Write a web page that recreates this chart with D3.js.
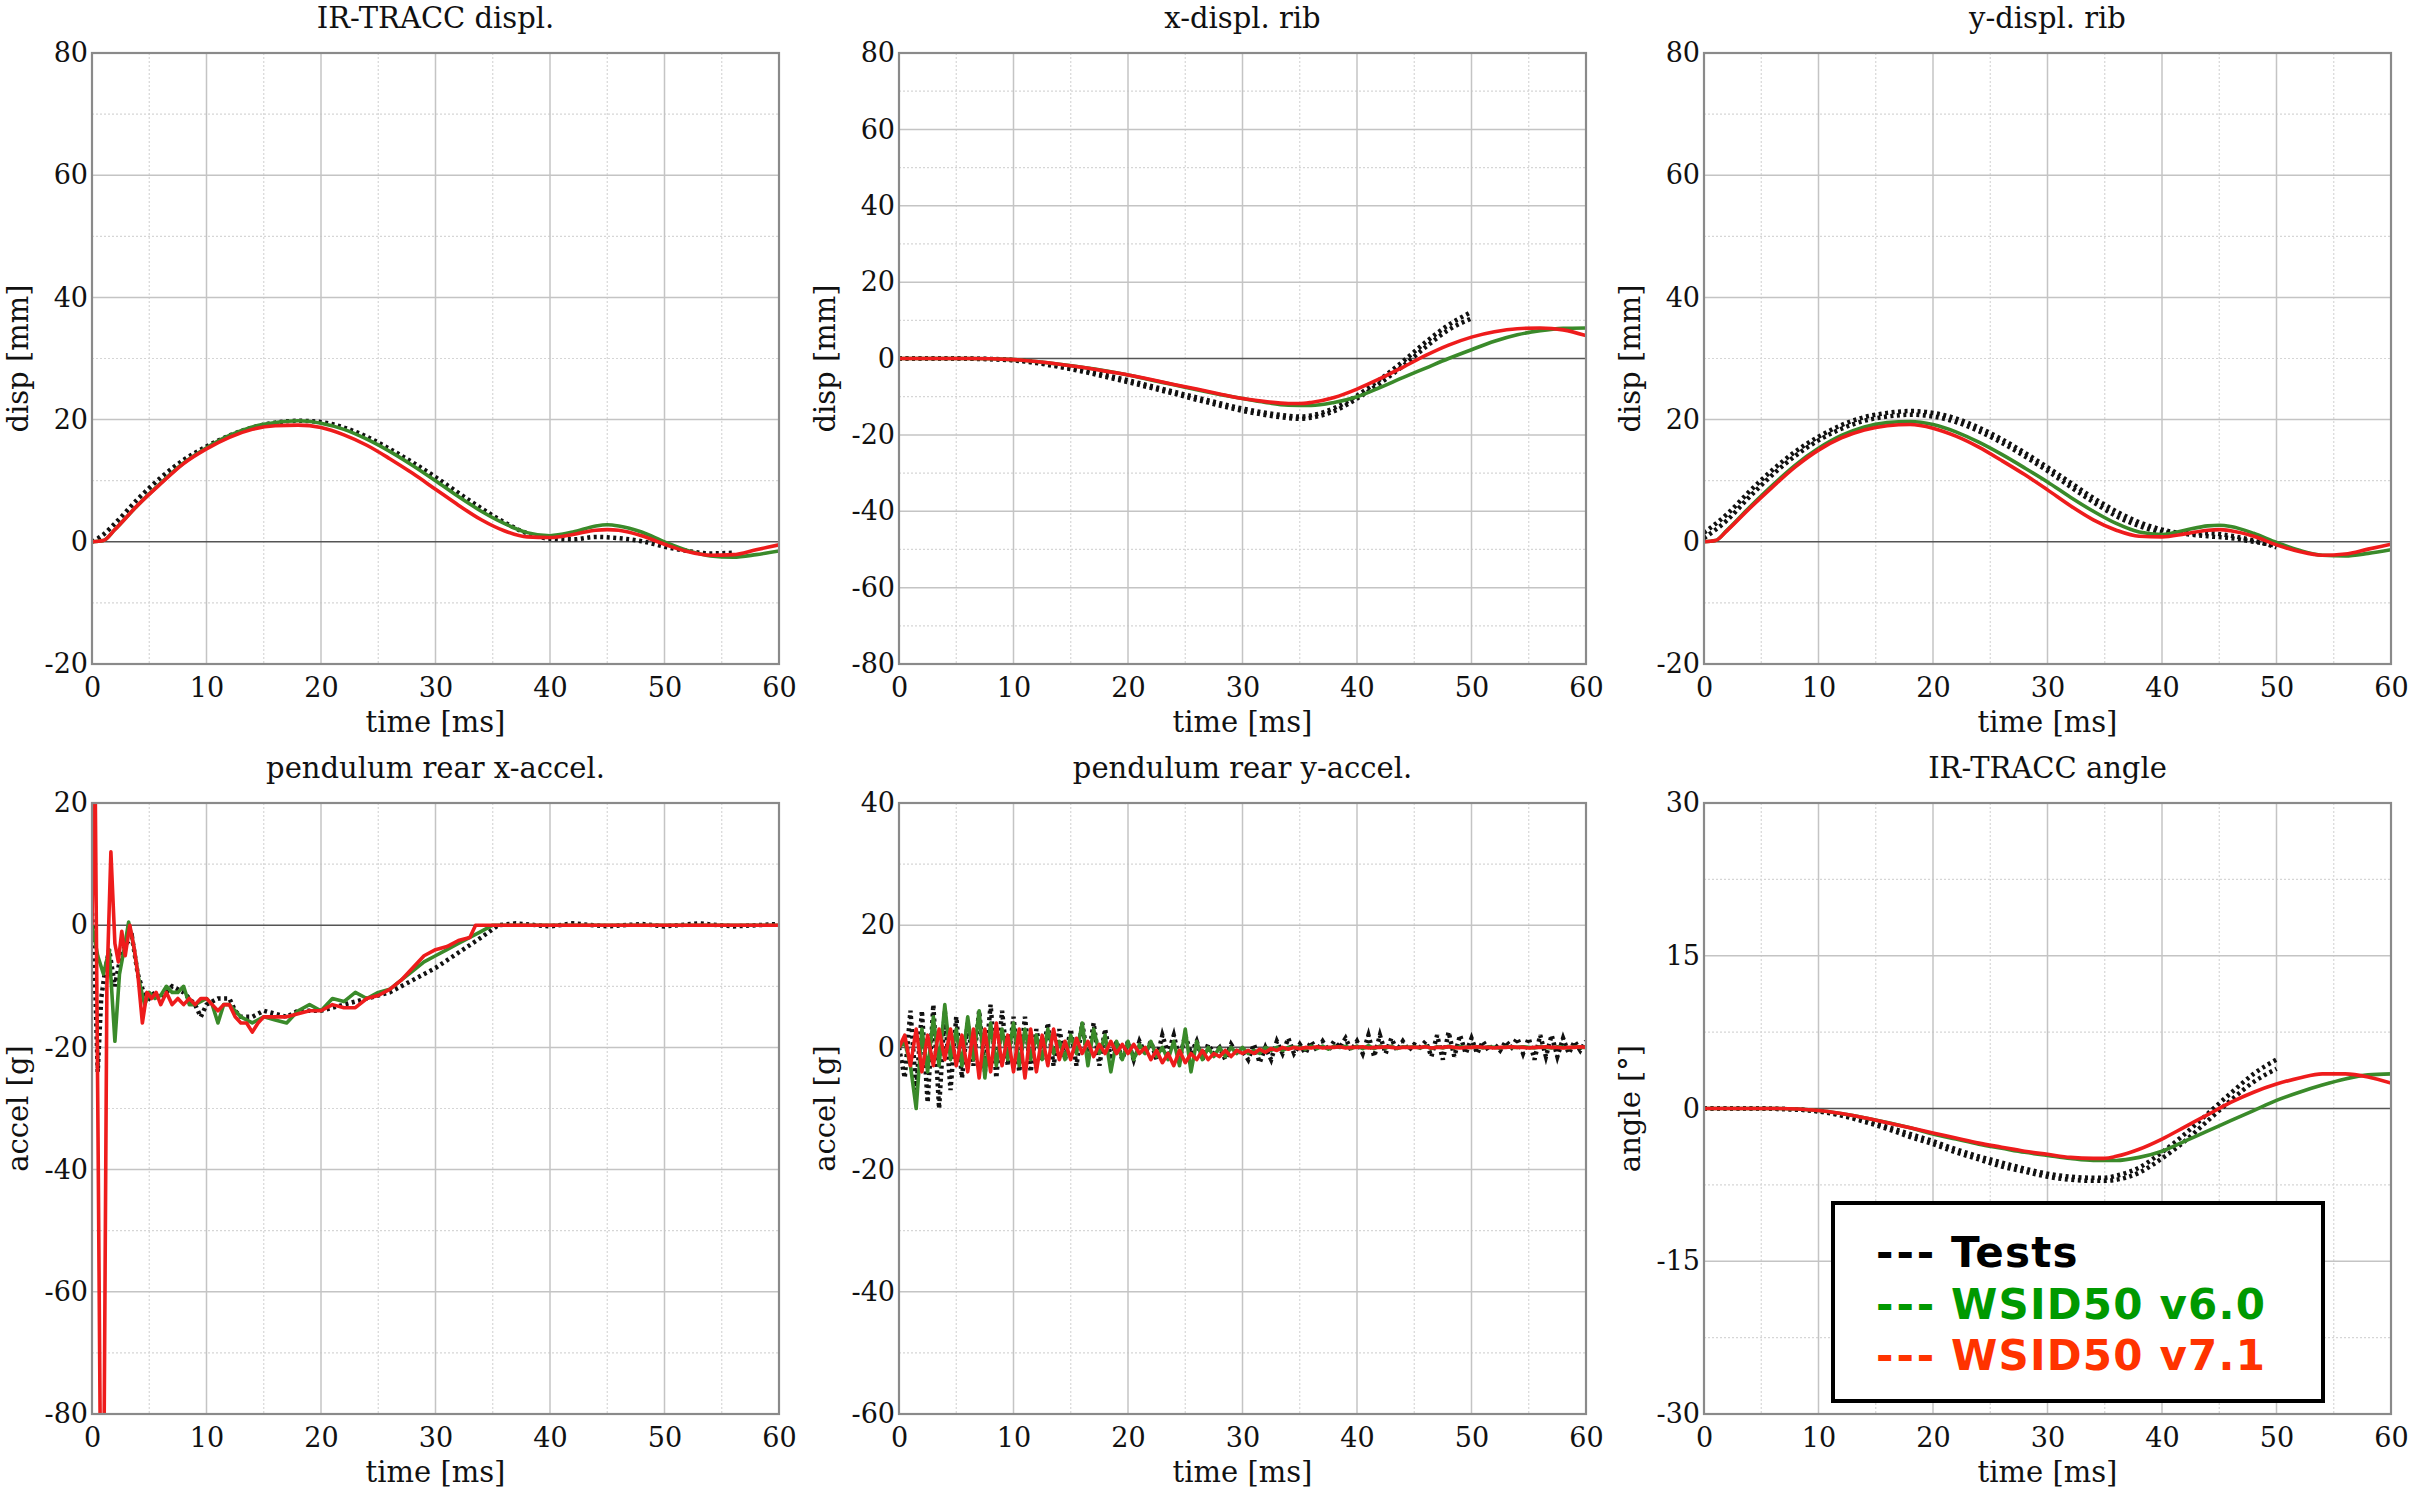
<!DOCTYPE html>
<html><head><meta charset="utf-8">
<script src="https://cdn.jsdelivr.net/npm/d3@7/dist/d3.min.js"></script>
<style>body{margin:0;background:#fff}svg{display:block}</style>
</head><body>
<svg id="chart" width="2409" height="1492"></svg>
<script>
// ---------------- DATA ----------------
const panelTitles = ["IR-TRACC displ.", "x-displ. rib", "y-displ. rib",
                     "pendulum rear x-accel.", "pendulum rear y-accel.", "IR-TRACC angle"];
const yLabels = ["disp [mm]", "disp [mm]", "disp [mm]", "accel [g]", "accel [g]", "angle [°]"];
const yDomains = [[-20, 80], [-80, 80], [-20, 80], [-80, 20], [-60, 40], [-30, 30]];
const yTickStep = [20, 20, 20, 20, 20, 15];
const xTicks = [0, 10, 20, 30, 40, 50, 60];
const xLabel = "time [ms]";
const legendLabels = ["Tests", "WSID50 v6.0", "WSID50 v7.1"];

// Panel 1 – IR-TRACC displacement [mm]
const p1Test1 = [[0,0],[1,1.2],[2,3],[4,7],[6,10.5],[8,13.4],[10,15.6],[12,17.4],[14,18.7],[16,19.5],[18,19.8],[20,19.6],[22,18.7],[24,17.2],[26,15.2],[28,13],[30,10.6],[32,8],[34,5.5],[36,3.2],[38,1.4],[40,0.5],[42,0.4],[44,0.8],[46,0.6],[48,0.1],[50,-0.8],[52,-1.5],[54,-1.9],[56,-1.8]];
const p1V60 = [[0,0],[1,0.2],[2,2],[4,6],[6,9.6],[8,12.9],[10,15.4],[12,17.4],[14,18.8],[16,19.5],[18,19.8],[20,19.4],[22,18.4],[24,16.8],[26,14.8],[28,12.5],[30,10],[32,7.4],[34,5],[36,3],[38,1.5],[40,1],[42,1.6],[44,2.6],[45,2.8],[46,2.6],[48,1.6],[50,0],[52,-1.4],[54,-2.3],[56,-2.5],[58,-2.1],[60,-1.5]];
const p1V71 = [[0,0],[1,0.2],[2,2],[4,6],[6,9.5],[8,12.8],[10,15.2],[12,17.1],[14,18.4],[16,19],[18,19.1],[20,18.7],[22,17.5],[24,15.8],[26,13.6],[28,11.2],[30,8.6],[32,6],[34,3.6],[36,1.8],[38,0.8],[40,0.7],[42,1.2],[44,1.9],[45,2],[46,1.9],[48,1],[50,-0.4],[52,-1.6],[54,-2.2],[56,-2.1],[58,-1.3],[60,-0.5]];

// Panel 2 – x-displ. rib [mm]
const p2Test1 = [[0,0],[4,0],[8,-0.2],[10,-0.5],[12,-1.2],[14,-2.2],[16,-3.4],[18,-4.8],[20,-6.2],[22,-7.7],[24,-9.2],[26,-10.8],[28,-12.3],[30,-13.7],[32,-14.8],[34,-15.6],[35,-15.8],[36,-15.5],[38,-13.8],[40,-10.5],[42,-6.5],[44,-2],[46,3],[48,7.5],[50,10.5]];
const p2Test2 = [[0,0],[4,0],[8,-0.1],[10,-0.4],[12,-1],[14,-1.9],[16,-3],[18,-4.3],[20,-5.7],[22,-7.2],[24,-8.7],[26,-10.2],[28,-11.7],[30,-13.1],[32,-14.2],[34,-15],[35,-15.2],[36,-14.9],[38,-13],[40,-9.7],[42,-5.5],[44,-0.8],[46,4.3],[48,8.8],[50,12.2]];
const p2V60 = [[0,0],[6,0],[10,-0.3],[14,-1.5],[18,-3.2],[20,-4.3],[22,-5.6],[24,-6.9],[26,-8.2],[28,-9.4],[30,-10.5],[32,-11.5],[34,-12.2],[36,-12.3],[38,-11.5],[40,-10],[42,-7.6],[44,-5],[46,-2.5],[48,0],[50,2.3],[52,4.5],[54,6.2],[56,7.3],[58,7.9],[60,8]];
const p2V71 = [[0,0],[6,0],[10,-0.3],[12,-0.8],[14,-1.5],[16,-2.3],[18,-3.3],[20,-4.3],[22,-5.5],[24,-6.8],[26,-8],[28,-9.3],[30,-10.5],[32,-11.3],[34,-11.8],[35,-11.8],[36,-11.5],[38,-10.2],[40,-8],[42,-5.3],[44,-2.3],[46,0.8],[48,3.5],[50,5.6],[52,7],[54,7.8],[56,8],[58,7.5],[60,6]];

// Panel 3 – y-displ. rib [mm]
const p3Test1 = [[0,1.5],[2,4.5],[4,8.3],[6,11.8],[8,14.8],[10,17.2],[12,19.1],[14,20.4],[16,21.1],[18,21.4],[20,21.1],[22,20.2],[24,18.7],[26,16.8],[28,14.6],[30,12.2],[32,9.7],[34,7.2],[36,5],[38,3.2],[40,2],[42,1.3],[44,0.9],[46,0.6],[48,0],[50,-0.6]];
const p3Test2 = [[0,0.6],[2,3.5],[4,7.4],[6,11],[8,14.1],[10,16.6],[12,18.5],[14,19.8],[16,20.5],[18,20.8],[20,20.5],[22,19.6],[24,18.1],[26,16.2],[28,14],[30,11.6],[32,9],[34,6.5],[36,4.2],[38,2.6],[40,1.6],[42,1.4],[44,1.4],[46,1],[48,0.2],[50,-0.9]];
const p3V60 = [[0,0],[1,0.2],[2,1.9],[4,5.7],[6,9.3],[8,12.6],[10,15.3],[12,17.4],[14,18.8],[16,19.5],[18,19.7],[20,19.2],[22,18],[24,16.3],[26,14.3],[28,12.1],[30,9.8],[32,7.3],[34,5],[36,3],[38,1.6],[40,1.2],[42,1.9],[44,2.6],[45,2.7],[46,2.5],[48,1.4],[50,-0.1],[52,-1.4],[54,-2.2],[56,-2.3],[58,-1.9],[60,-1.3]];
const p3V71 = [[0,0],[1,0.2],[2,1.8],[4,5.5],[6,9],[8,12.3],[10,15],[12,17],[14,18.3],[16,19],[18,19.2],[20,18.6],[22,17.3],[24,15.5],[26,13.3],[28,11],[30,8.5],[32,5.9],[34,3.6],[36,1.9],[38,0.9],[40,0.8],[42,1.3],[44,1.9],[45,2],[46,1.8],[48,0.9],[50,-0.5],[52,-1.6],[54,-2.2],[56,-2],[58,-1.2],[60,-0.4]];

// Panel 4 – pendulum rear x-accel. [g]
const p4Test1 = [[0,2],[0.2,-5],[0.5,-24],[0.8,-12],[1.1,-8],[1.5,-4],[2,-10],[2.5,-5],[3,-3],[3.5,-2],[4,-8],[4.5,-11],[5,-12],[5.5,-11],[6,-12],[7,-10],[8,-11],[9,-13],[9.5,-15],[10,-13],[11,-12],[12,-12],[12.5,-14],[13,-15],[14,-15],[15,-14],[16,-14.5],[17,-15],[18,-14],[19,-14],[20,-14],[22,-13],[24,-12],[26,-11],[28,-9],[30,-7],[32,-4.5],[34,-2],[35.5,0],[37,0.3],[40,-0.2],[42,0.3],[45,-0.2],[48,0.2],[50,-0.2],[53,0.3],[56,-0.2],[60,0.2]];
const p4V60 = [[0,0],[0.5,-5],[1,-8],[1.5,-4],[2,-19],[2.4,-8],[2.8,-4],[3.2,0.5],[3.6,-3],[4.1,-9],[4.6,-13],[5,-11],[5.5,-12],[6,-11.5],[6.5,-10],[7,-11],[7.5,-11],[8,-10],[8.5,-13],[9,-13],[10,-12],[10.5,-13],[11,-16],[11.5,-13],[12,-13],[12.5,-14],[13,-15],[14,-16],[15,-15],[16,-15.5],[17,-16],[18,-14],[19,-13],[20,-14],[21,-12],[22,-12.5],[23,-11],[24,-12],[25,-11],[26,-10.5],[27,-9],[28,-7.5],[29,-6],[30,-5],[31,-4],[32,-3],[33,-2],[34,-1],[35,0],[60,0]];
const p4V71 = [[0,0],[0.25,30],[0.55,-40],[0.9,-130],[1.3,-10],[1.65,12],[2,-3],[2.3,-6],[2.6,-1],[2.9,-5],[3.3,0],[3.7,-4],[4.0,-8],[4.4,-16],[4.8,-11],[5.2,-12],[5.6,-11],[6,-13],[6.5,-11],[7,-13],[7.5,-12],[8,-13],[8.5,-12],[9,-13],[9.5,-12],[10,-12],[10.5,-13],[11,-14],[11.5,-13],[12,-13],[12.5,-15],[13,-16],[13.5,-16],[14,-17.5],[14.5,-16],[15,-15],[16,-15],[17,-15],[18,-14.5],[19,-14],[20,-14],[21,-13],[22,-13.5],[23,-13.5],[24,-12],[25,-11.5],[26,-10.5],[27,-9],[28,-7],[29,-5],[30,-4],[31,-3.5],[32,-2.5],[33,-2],[33.5,0],[60,0]];

// Panel 5 – pendulum rear y-accel. [g], sampled every 0.5 ms from 0 to 60 ms
const p5Time = [0,0.5,1,1.5,2,2.5,3,3.5,4,4.5,5,5.5,6,6.5,7,7.5,8,8.5,9,9.5,10,10.5,11,11.5,12,12.5,13,13.5,14,14.5,15,15.5,16,16.5,17,17.5,18,18.5,19,19.5,20,20.5,21,21.5,22,22.5,23,23.5,24,24.5,25,25.5,26,26.5,27,27.5,28,28.5,29,29.5,30,30.5,31,31.5,32,32.5,33,33.5,34,34.5,35,35.5,36,36.5,37,37.5,38,38.5,39,39.5,40,40.5,41,41.5,42,42.5,43,43.5,44,44.5,45,45.5,46,46.5,47,47.5,48,48.5,49,49.5,50,50.5,51,51.5,52,52.5,53,53.5,54,54.5,55,55.5,56,56.5,57,57.5,58,58.5,59,59.5,60];
const p5Test1 = [0,-5,6,-7,6,-9,7,-10,6,-7, 5,-5,4,-3,6,-4,7,-5,6,-3, 5,-4,5,-4,3,-2,4,-3,3,-2, 3,-3,4,-2,4,-3,3,-2,1,-2, 1,-2,1,-1,1,-2,2,-1,2,-2, 2,-1,1,-2,0.5,-1,0,-2,0.5,-1, -0.5,-2,0.5,-2.5,0,-2,1,-1,1.5,-1, 0.5,-1,1,-0.5,1,-0.5,1,0,1.5,-0.5, 1,-1,2,-1.5,2,-1,1.5,-0.5,1,-0.5, 0.5,0,1,-1.5,2,-2,2.5,-1.5,2,-1, 1.5,-1,1,-0.5,0.5,-0.5,1,0,1.5,-1, 1.5,-2,2,-1.5,2,-1.5,1.5,-1,1,-0.5, 1];
const p5V60 = [0,1,-3,-10,3,-4,5,-3,7,-2, 3,-3,5,-2,6,-5,4,-3,3,-2, 4,-3,3,-2,2,-2,3,-1,1,-2, 2,-1,4,-3,3,-1,2,-4,1,-2, 1,-2,0.5,-1,1,-1.5,0,-2,1,-3, 3,-4,1,-2,0,-1.5,0,-1.5,0,-1, 0,-1,-0.5,-1,0,-0.5,0,-0.5,0,0, 0,-0.3,0.2,-0.2,0.2,-0.3,0.2,0,0.2,-0.2, 0.2,-0.2,0.3,-0.2,0.2,-0.1,0.2,-0.2,0.1,0, 0.1,-0.1,0.2,-0.2,0.1,-0.1,0.2,-0.1,0.1,0, 0,0.1,-0.1,0.1,0,-0.1,0.1,0,0,0.1, 0,-0.1,0.1,0,-0.1,0.1,0,-0.1,0.1,0, 0];
const p5V71 = [0,2,-3,3,-4,2,-3,3,-2,3, -3,2,-4,3,-5,3,-4,4,-3,2, -4,3,-5,3,-4,2,-3,3,-2,1, -2,1.5,-1,1,-1.5,0.5,-1,1,-1,0.5, -1,0.5,-1,0,-2,-0.5,-2.5,-1,-3,-0.5, -2.5,-1,-2,-0.5,-2,-1,-1.5,-0.5,-1.5,-0.5, -1,-0.5,-1,-0.3,-0.8,-0.2,-0.5,0,-0.3,0, -0.2,0,-0.1,0.1,-0.1,0,0,0.1,-0.1,0, 0,0.1,-0.1,0,0,0.1,0,-0.1,0,0, 0,0,0.1,-0.1,0,0,0.1,0,-0.1,0, 0,0.1,0,0,-0.1,0,0,0.1,0,0, -0.1,0,0,0.1,0,0,-0.1,0,0,0.1, 0];

// Panel 6 – IR-TRACC angle [°]
const p6Test1 = [[0,0],[4,0],[8,-0.1],[10,-0.3],[12,-0.7],[14,-1.3],[16,-2],[18,-2.8],[20,-3.5],[22,-4.3],[24,-5],[26,-5.7],[28,-6.2],[30,-6.7],[32,-7],[34,-7.1],[35,-7.1],[36,-7],[38,-6.3],[40,-4.9],[42,-3.2],[44,-1.2],[46,0.8],[48,2.6],[50,3.9]];
const p6Test2 = [[0,0],[4,0],[8,-0.1],[10,-0.25],[12,-0.6],[14,-1.1],[16,-1.8],[18,-2.5],[20,-3.2],[22,-4],[24,-4.7],[26,-5.3],[28,-5.9],[30,-6.4],[32,-6.7],[34,-6.8],[35,-6.8],[36,-6.6],[38,-5.8],[40,-4.3],[42,-2.5],[44,-0.5],[46,1.5],[48,3.4],[50,4.8]];
const p6V60 = [[0,0],[6,0],[10,-0.2],[14,-0.9],[18,-1.9],[20,-2.5],[22,-3],[24,-3.5],[26,-3.9],[28,-4.3],[30,-4.6],[32,-4.9],[34,-5.1],[36,-5.1],[38,-4.8],[40,-4.2],[42,-3.2],[44,-2.2],[46,-1.2],[48,-0.2],[50,0.8],[52,1.6],[54,2.3],[56,2.9],[58,3.3],[60,3.4]];
const p6V71 = [[0,0],[6,0],[10,-0.2],[12,-0.5],[14,-0.9],[16,-1.4],[18,-1.9],[20,-2.4],[22,-2.9],[24,-3.4],[26,-3.8],[28,-4.2],[30,-4.5],[32,-4.8],[34,-4.9],[35,-4.9],[36,-4.7],[38,-4],[40,-3],[42,-1.8],[44,-0.6],[46,0.6],[48,1.6],[50,2.4],[52,3],[54,3.4],[56,3.4],[58,3.1],[60,2.5]];

// ---------------- BUILD ----------------
const zipT = vals => vals.map((v, i) => [p5Time[i], v]);
const panelTests = [[p1Test1], [p2Test1, p2Test2], [p3Test1, p3Test2], [p4Test1], [zipT(p5Test1)], [p6Test1, p6Test2]];
const panelV60 = [p1V60, p2V60, p3V60, p4V60, zipT(p5V60), p6V60];
const panelV71 = [p1V71, p2V71, p3V71, p4V71, zipT(p5V71), p6V71];
const smooth = [true, true, true, false, false, true];

const colLeft = [92, 899, 1704];
const rowTop = [53, 803];
const W = 687, H = 611;
const C_TEST = "#111", C_V60 = "#3a8a2a", C_V71 = "#ee1c1c";

const svg = d3.select("#chart");
const serif = "'DejaVu Serif', serif";
const plainFmt = d => String(d);   // hyphen-minus like the original

panelTitles.forEach((title, i) => {
  const left = colLeft[i % 3], top = rowTop[Math.floor(i / 3)];
  const g = svg.append("g").attr("transform", `translate(${left},${top})`);
  const x = d3.scaleLinear().domain([0, 60]).range([0, W]);
  const [y0, y1] = yDomains[i];
  const y = d3.scaleLinear().domain(yDomains[i]).range([H, 0]);
  const step = yTickStep[i];
  const yTicks = d3.range(y0, y1 + 0.001, step);
  const yMinor = d3.range(y0 + step / 2, y1, step);
  const xMinor = [5, 15, 25, 35, 45, 55];

  // minor grid
  g.selectAll(".mx").data(xMinor).join("line")
    .attr("x1", d => x(d)).attr("x2", d => x(d)).attr("y1", 0).attr("y2", H)
    .attr("stroke", "#d6d6d6").attr("stroke-width", 1.2).attr("stroke-dasharray", "2,2");
  g.selectAll(".my").data(yMinor).join("line")
    .attr("y1", d => y(d)).attr("y2", d => y(d)).attr("x1", 0).attr("x2", W)
    .attr("stroke", "#d6d6d6").attr("stroke-width", 1.2).attr("stroke-dasharray", "2,2");
  // major grid
  g.selectAll(".gx").data(xTicks).join("line")
    .attr("x1", d => x(d)).attr("x2", d => x(d)).attr("y1", 0).attr("y2", H)
    .attr("stroke", "#c4c4c4").attr("stroke-width", 1.5);
  g.selectAll(".gy").data(yTicks).join("line")
    .attr("y1", d => y(d)).attr("y2", d => y(d)).attr("x1", 0).attr("x2", W)
    .attr("stroke", d => d === 0 ? "#555" : "#c4c4c4").attr("stroke-width", d => d === 0 ? 1.6 : 1.5);

  // clip
  const cid = "clip" + i;
  g.append("clipPath").attr("id", cid).append("rect").attr("width", W).attr("height", H);
  const lines = g.append("g").attr("clip-path", `url(#${cid})`);
  const line = d3.line().x(d => x(d[0])).y(d => y(d[1]))
    .curve(smooth[i] ? d3.curveMonotoneX : d3.curveLinear);

  panelTests[i].forEach(s => {
    lines.append("path").attr("d", line(s)).attr("fill", "none")
      .attr("stroke", C_TEST).attr("stroke-width", 4.5).attr("stroke-dasharray", "3,3.5");
  });
  lines.append("path").attr("d", line(panelV60[i])).attr("fill", "none")
    .attr("stroke", C_V60).attr("stroke-width", 3.6).attr("stroke-linejoin", "round");
  lines.append("path").attr("d", line(panelV71[i])).attr("fill", "none")
    .attr("stroke", C_V71).attr("stroke-width", 3.6).attr("stroke-linejoin", "round");

  // frame
  g.append("rect").attr("width", W).attr("height", H).attr("fill", "none")
    .attr("stroke", "#8a8a8a").attr("stroke-width", 2.2);

  // axes
  const xAxis = g.append("g").attr("transform", `translate(0,${H})`)
    .call(d3.axisBottom(x).tickValues(xTicks).tickFormat(plainFmt).tickSize(0).tickPadding(14));
  const yAxis = g.append("g")
    .call(d3.axisLeft(y).tickValues(yTicks).tickFormat(plainFmt).tickSize(0).tickPadding(4));
  [xAxis, yAxis].forEach(a => {
    a.select(".domain").remove();
    a.selectAll("text").attr("font-family", serif).attr("font-size", 27).attr("fill", "#111");
  });
  xAxis.selectAll("text").attr("dy", "0.71em");

  // labels
  g.append("text").attr("x", W / 2).attr("y", -25).attr("text-anchor", "middle")
    .attr("font-family", serif).attr("font-size", 29).attr("fill", "#111").text(title);
  g.append("text").attr("x", W / 2).attr("y", H + 68).attr("text-anchor", "middle")
    .attr("font-family", serif).attr("font-size", 29).attr("fill", "#111").text(xLabel);
  g.append("text").attr("transform", `translate(-74,${H / 2}) rotate(-90)`)
    .attr("text-anchor", "middle").attr("dy", "0.35em")
    .attr("font-family", serif).attr("font-size", 29).attr("fill", "#111").text(yLabels[i]);
});

// legend
const leg = svg.append("g");
leg.append("rect").attr("x", 1833).attr("y", 1203).attr("width", 490).attr("height", 198)
  .attr("fill", "#fff").attr("stroke", "#000").attr("stroke-width", 4);
const legColors = ["#000", "#009900", "#ff3300"];
const legFont = "'DejaVu Sans', Verdana, sans-serif";
legendLabels.forEach((lab, k) => {
  const yy = 1267 + k * 51.5;
  leg.append("text").attr("x", 1876).attr("y", yy)
    .attr("font-family", legFont).attr("font-weight", "bold")
    .attr("font-size", 42).attr("letter-spacing", 3).attr("fill", legColors[k]).text("---");
  leg.append("text").attr("x", 1951).attr("y", yy)
    .attr("font-family", legFont).attr("font-weight", "bold")
    .attr("font-size", 42).attr("letter-spacing", 1.2).attr("fill", legColors[k]).text(lab);
});
</script>
</body></html>
